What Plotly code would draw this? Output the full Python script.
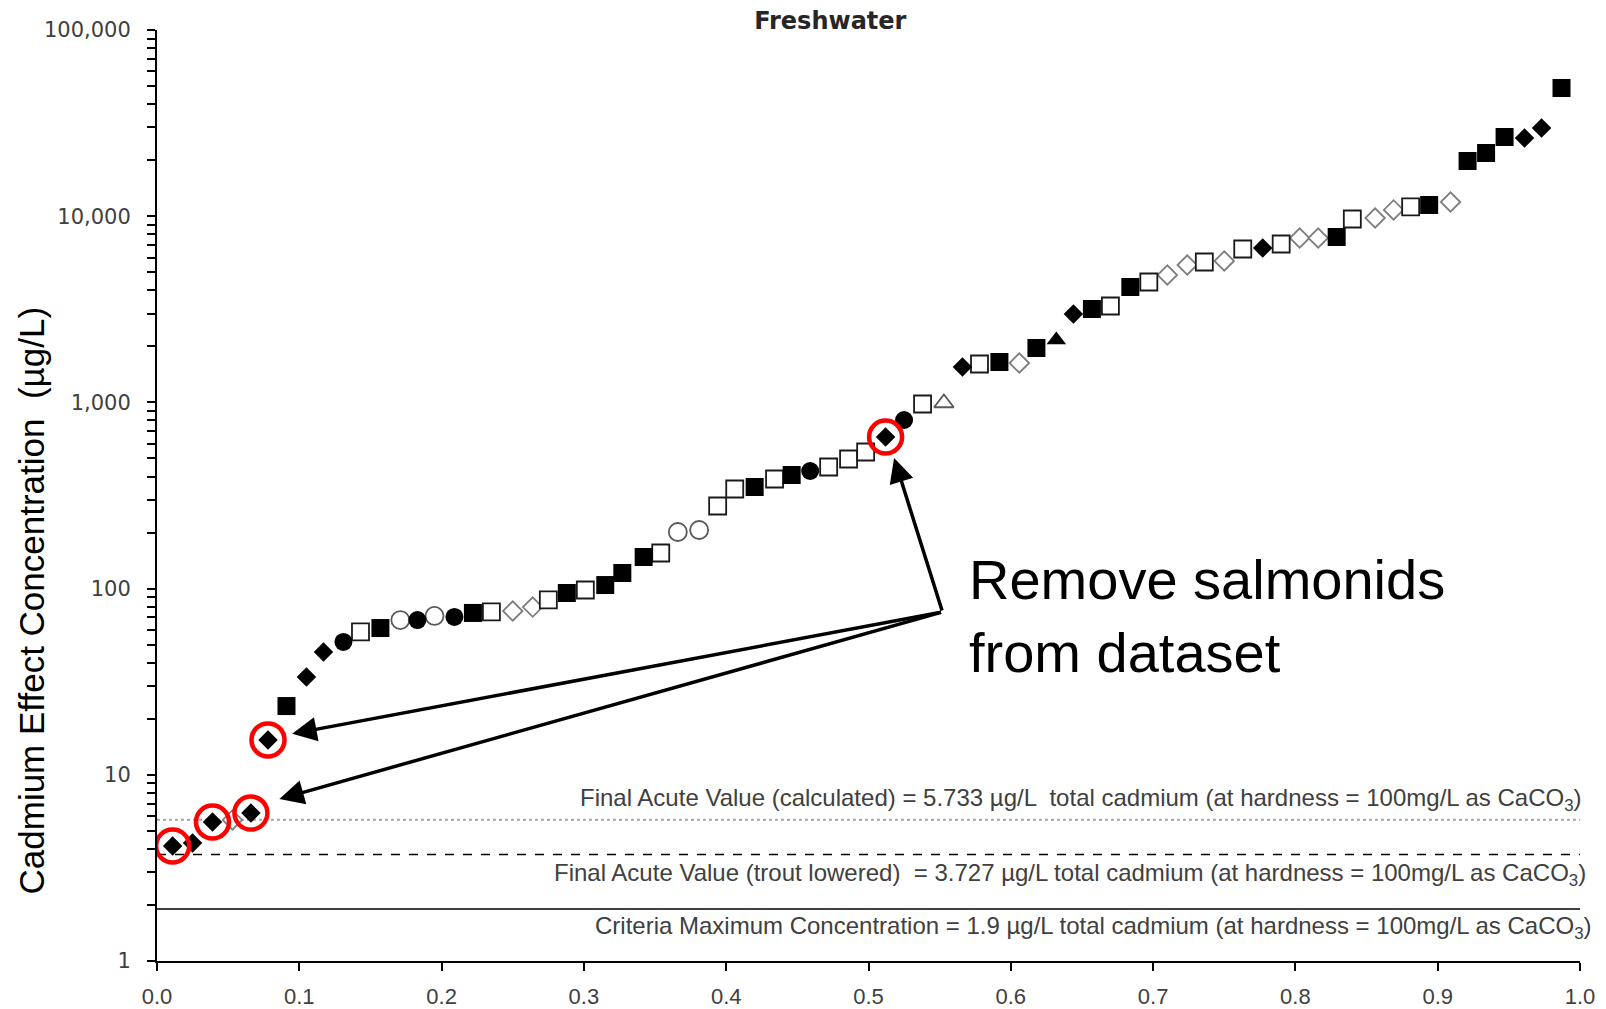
import plotly.graph_objects as go
import math

# ---- data ----
x_vals = [0.011, 0.025, 0.039, 0.053, 0.066, 0.078, 0.091, 0.105, 0.117, 0.131,
          0.143, 0.157, 0.171, 0.183, 0.195, 0.209, 0.222, 0.235, 0.250, 0.264,
          0.275, 0.288, 0.301, 0.315, 0.327, 0.342, 0.354, 0.366, 0.381, 0.394,
          0.406, 0.420, 0.434, 0.446, 0.459, 0.472, 0.486, 0.498, 0.512, 0.525,
          0.538, 0.553, 0.566, 0.578, 0.592, 0.606, 0.618, 0.632, 0.644, 0.657,
          0.670, 0.684, 0.697, 0.710, 0.724, 0.736, 0.750, 0.763, 0.777, 0.790,
          0.803, 0.816, 0.829, 0.840, 0.856, 0.869, 0.881, 0.894, 0.909, 0.921,
          0.934, 0.947, 0.961, 0.973, 0.987]
y_vals = [4.15, 4.30, 5.58, 5.72, 6.23, 15.4, 23.4, 33.5, 45.6, 51.7,
          58.5, 61.4, 67.8, 67.8, 71.3, 70.4, 74.0, 74.9, 75.8, 79.6,
          86.9, 94.7, 98.3, 104.5, 121.3, 147.8, 155.3, 201.4, 206.4, 277.7,
          342.6, 351.3, 387.8, 407.5, 428.2, 449.9, 496.6, 541.6, 651.9, 804.4,
          980.4, 992.6, 1549, 1608, 1648, 1628, 1960, 2163, 2985, 3174,
          3294, 4166, 4432, 4833, 5470, 5675, 5746, 6664, 6747, 7090,
          7637, 7637, 7733, 9660, 9780, 10800, 11210, 11490, 11920, 19790,
          21850, 26630, 26300, 29770, 48820]
# marker group of each point: fd filled diamond, fs filled square, os open square,
# fc filled circle, oc open circle, od open diamond, ot open triangle, ft filled triangle
groups = ["fd", "fd", "fd", "od", "fd", "fd", "fs", "fd", "fd", "fc",
          "os", "fs", "oc", "fc", "oc", "fc", "fs", "os", "od", "od",
          "os", "fs", "os", "fs", "fs", "fs", "os", "oc", "oc", "os",
          "os", "fs", "os", "fs", "fc", "os", "os", "os", "fd", "fc",
          "os", "ot", "fd", "os", "fs", "od", "fs", "ft", "fd", "fs",
          "os", "fs", "os", "od", "od", "os", "od", "os", "fd", "os",
          "od", "od", "fs", "os", "od", "od", "os", "fs", "od", "fs",
          "fs", "fs", "fd", "fd", "fs"]
circled = [0, 2, 4, 5, 38]  # indices of salmonid points (red circles)

ref_values = [5.733, 3.727, 1.9]
ref_labels = [
    "Final Acute Value (calculated) = 5.733 µg/L  total cadmium (at hardness = 100mg/L as CaCO<sub>3</sub>)",
    "Final Acute Value (trout lowered)  = 3.727 µg/L total cadmium (at hardness = 100mg/L as CaCO<sub>3</sub>)",
    "Criteria Maximum Concentration = 1.9 µg/L total cadmium (at hardness = 100mg/L as CaCO<sub>3</sub>)",
]
y_major = [1, 10, 100, 1000, 10000, 100000]
y_major_text = ["1", "10", "100", "1,000", "10,000", "100,000"]
x_ticks = [0.0, 0.1, 0.2, 0.3, 0.4, 0.5, 0.6, 0.7, 0.8, 0.9, 1.0]

# ---- styles ----
styles = {
    "fd": dict(symbol="diamond", size=15, color="#000000", line=dict(width=0)),
    "fs": dict(symbol="square", size=18, color="#000000", line=dict(width=0)),
    "os": dict(symbol="square", size=17, color="#ffffff", line=dict(width=1.8, color="#1a1a1a")),
    "fc": dict(symbol="circle", size=18, color="#000000", line=dict(width=0)),
    "oc": dict(symbol="circle", size=18, color="#ffffff", line=dict(width=1.8, color="#595959")),
    "od": dict(symbol="diamond", size=15, color="#ffffff", line=dict(width=1.8, color="#7f7f7f")),
    "ot": dict(symbol="triangle-up", size=17, color="#ffffff", line=dict(width=1.8, color="#595959")),
    "ft": dict(symbol="triangle-up", size=17, color="#000000", line=dict(width=0)),
}

fig = go.Figure()

# reference lines
line_styles = [
    dict(color="#a6a6a6", width=2, dash="dot"),
    dict(color="#000000", width=1.5, dash="dash"),
    dict(color="#000000", width=1.5),
]
for v, ls in zip(ref_values, line_styles):
    fig.add_trace(go.Scatter(x=[0, 1], y=[v, v], mode="lines", line=ls,
                             hoverinfo="skip", showlegend=False))

for g in ["od", "os", "oc", "ot", "fs", "fc", "ft", "fd"]:
    xs = [x for x, gg in zip(x_vals, groups) if gg == g]
    ys = [y for y, gg in zip(y_vals, groups) if gg == g]
    fig.add_trace(go.Scatter(x=xs, y=ys, mode="markers", marker=styles[g],
                             showlegend=False, name=g))

fig.add_trace(go.Scatter(
    x=[x_vals[i] for i in circled], y=[y_vals[i] for i in circled],
    mode="markers",
    marker=dict(symbol="circle-open", size=33, color="#ff0000", line=dict(width=4.5, color="#ff0000")),
    showlegend=False, hoverinfo="skip"))

annotations = []
# reference line labels
label_pos = [(1.002, 0.173), (1.0055, 0.093), (1.010, 0.036)]
for (px, py), t in zip(label_pos, ref_labels):
    annotations.append(dict(xref="paper", yref="paper", x=px, y=py, text=t,
                            showarrow=False, xanchor="right", yanchor="middle",
                            font=dict(family="Liberation Sans, Arial", size=24, color="#404040")))

# big callout text
annotations.append(dict(xref="paper", yref="paper", x=0.569, y=0.371,
                        text="Remove salmonids<br>from dataset", showarrow=False,
                        xanchor="left", yanchor="middle", align="left",
                        font=dict(family="Liberation Sans, Arial", size=56, color="#000000")))

# arrows (positions on log axis given as log10)
tail = (0.552, math.log10(74.9))
heads = [(0.518, math.log10(503)), (0.095, math.log10(16.6)), (0.086, math.log10(7.41))]
for hx, hy in heads:
    annotations.append(dict(x=hx, y=hy, xref="x", yref="y", ax=tail[0], ay=tail[1],
                            axref="x", ayref="y", showarrow=True, arrowhead=2,
                            arrowsize=1.4, arrowwidth=3.5, arrowcolor="#000000", text=""))

# y axis title
annotations.append(dict(xref="paper", yref="paper", x=-0.088, y=0.387,
                        text="Cadmium Effect Concentration  (µg/L)", textangle=-90,
                        showarrow=False, xanchor="center", yanchor="middle",
                        font=dict(family="Liberation Sans, Arial", size=35, color="#000000")))

minor_vals = [m * 10 ** d for d in range(5) for m in range(2, 10)]

fig.update_layout(
    width=1606, height=1009,
    margin=dict(l=157, r=26, t=30, b=48, autoexpand=False),
    paper_bgcolor="#ffffff", plot_bgcolor="#ffffff",
    title=dict(text="<b>Freshwater</b>", x=0.517, y=0.980, xanchor="center", yanchor="middle",
               font=dict(family="DejaVu Sans", size=24, color="#262626")),
    annotations=annotations,
    xaxis=dict(range=[0, 1], tickvals=x_ticks, ticktext=[f"{v:.1f}" for v in x_ticks],
               automargin=False,
               showgrid=False, zeroline=False, showline=True, linecolor="#000000", linewidth=2,
               ticks="outside", ticklen=8, tickwidth=1.5, tickcolor="#000000",
               ticklabelstandoff=7,
               tickfont=dict(family="Liberation Sans, Arial", size=22, color="#404040")),
    yaxis=dict(type="log", range=[0, 5], tickvals=y_major, ticktext=y_major_text,
               automargin=False,
               showgrid=False, zeroline=False, showline=True, linecolor="#000000", linewidth=2,
               ticks="outside", ticklen=8, tickwidth=1.5, tickcolor="#000000",
               ticklabelstandoff=12,
               minor=dict(tickvals=minor_vals, ticks="outside", ticklen=8, tickwidth=1.5,
                          tickcolor="#000000", showgrid=False),
               tickfont=dict(family="DejaVu Sans", size=21, color="#404040")),
)

fig.write_html("out.html", config={"displayModeBar": False},
               post_script="document.body.style.margin='0px';")
